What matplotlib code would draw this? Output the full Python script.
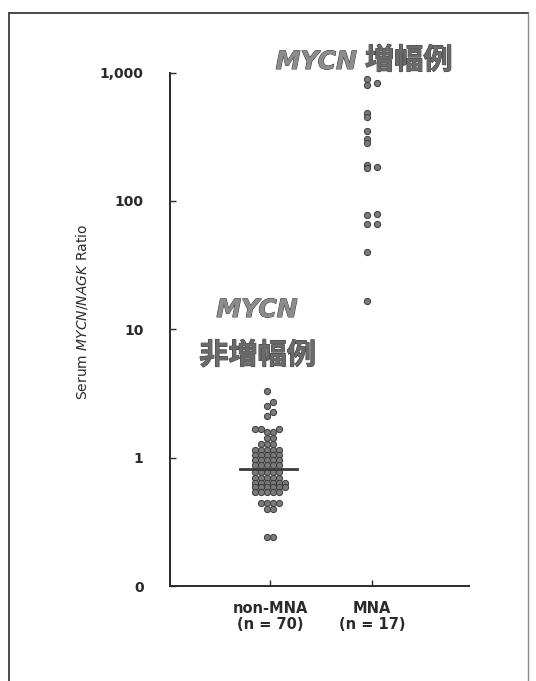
import numpy as np
import matplotlib
matplotlib.use("Agg")
import matplotlib.pyplot as plt
from matplotlib.lines import Line2D
import matplotlib.patheffects as pe

plt.rcParams['font.family'] = ['DejaVu Sans', 'Noto Sans CJK JP']
plt.rcParams['mathtext.fontset'] = 'custom'
plt.rcParams['mathtext.rm'] = 'DejaVu Sans'
plt.rcParams['mathtext.it'] = 'DejaVu Sans:italic'

# ---------------- data ----------------
categories = ["non-MNA\n(n = 70)", "MNA\n(n = 17)"]
non_mna_levels = [3.31, 2.72, 2.52, 2.27, 2.11, 1.67, 1.58, 1.42, 1.27,
                  1.15, 1.05, 0.955, 0.87, 0.77, 0.70, 0.64, 0.59, 0.54,
                  0.44, 0.40, 0.24]
non_mna_counts = [1, 1, 1, 1, 1, 3, 2, 2, 3,
                  5, 5, 5, 5, 5, 5, 6, 6, 5,
                  4, 2, 2]
non_mna = np.repeat(non_mna_levels, non_mna_counts)
mna = np.array([885, 832, 798, 480, 452, 351, 301, 280, 189, 184, 179,
                79, 77, 66, 66, 40, 16.7])
yticks = [0.1, 1, 10, 100, 1000]
yticklabels = ["0", "1", "10", "100", "1,000"]
ylabel = r"Serum $\mathit{MYCN/NAGK}$ Ratio"

# ---------------- figure ----------------
W, H = 536, 681
fig = plt.figure(figsize=(W / 100, H / 100), dpi=100)
ax = fig.add_axes([170 / W, (H - 586) / H, 299 / W, (586 - 72.5) / H])
ax.set_yscale('log')
ax.set_ylim(0.1, 1000)
ax.set_xlim(-0.98, 1.95)

for s in ['top', 'right']:
    ax.spines[s].set_visible(False)
for s in ['left', 'bottom']:
    ax.spines[s].set_linewidth(1.4)
    ax.spines[s].set_color('#2a2a2a')

ax.set_yticks(yticks)
ax.set_yticklabels(yticklabels)
ax.yaxis.set_minor_locator(matplotlib.ticker.NullLocator())
ax.set_xticks([0, 1])
ax.set_xticklabels(categories, linespacing=1.05)
ax.tick_params(axis='y', direction='in', length=4, width=1, pad=19,
               labelsize=10, colors='#2a2a2a')
ax.tick_params(axis='x', direction='in', length=4, width=1, pad=11,
               labelsize=10.5, colors='#2a2a2a')
for lab in ax.get_yticklabels() + ax.get_xticklabels():
    lab.set_fontweight('bold')

ax.set_ylabel(ylabel, fontsize=10, color='#2a2a2a')
ax.yaxis.set_label_coords(-0.268, 0.534)


def swarm(values, center, step_px, diam_px):
    pts = ax.transData.transform(np.column_stack([np.full(len(values), center), values]))
    ys = pts[:, 1]
    x0 = pts[0, 0]
    cands = [sg * (k + 0.5) * step_px for k in range(30) for sg in (-1, 1)]
    placed = []
    xs = np.empty(len(values))
    for i in np.argsort(ys, kind='stable'):
        for c in cands:
            if all((c - px) ** 2 + (ys[i] - py) ** 2 >= diam_px ** 2 for px, py in placed):
                break
        placed.append((c, ys[i]))
        xs[i] = x0 + c
    return ax.transData.inverted().transform(np.column_stack([xs, ys]))[:, 0]


x_non = swarm(non_mna, 0, 6.0, 4.4)
x_mna = swarm(mna, 1, 10, 2.9)
kw = dict(s=20, facecolor='#7a7a7a', edgecolor='#3a3a3a', linewidths=0.7, zorder=3)
ax.scatter(x_non, non_mna, **kw)
ax.scatter(x_mna, mna, **kw)

med = np.median(non_mna)
ax.plot([-0.29, 0.26], [med, med], color='#3a3a3a', lw=2, zorder=4)

# ---------------- annotations ----------------
eff = [pe.withStroke(linewidth=0.7, foreground='#3a3a3a')]
fig.text(357 / W, 1 - 69 / H, "MYCN", ha='right', va='baseline', fontsize=18,
         fontweight='bold', style='italic', color='#8c8c8c', path_effects=eff,
         family='DejaVu Sans')
fig.text(365 / W, 1 - 69 / H, "増幅例", ha='left', va='baseline', fontsize=21,
         fontweight='bold', color='#6a6a6a', path_effects=eff,
         family='Noto Sans CJK JP')
fig.text(257 / W, 1 - 317 / H, "MYCN", ha='center', va='baseline', fontsize=18,
         fontweight='bold', style='italic', color='#8c8c8c', path_effects=eff,
         family='DejaVu Sans')
fig.text(257.5 / W, 1 - 364 / H, "非増幅例", ha='center', va='baseline', fontsize=21,
         fontweight='bold', color='#6a6a6a', path_effects=eff,
         family='Noto Sans CJK JP')

# ---------------- page frame ----------------
fc = '#4a4a4a'
fig.add_artist(Line2D([9 / W, 9 / W], [0, 1 - 13 / H], color=fc, lw=1.4, transform=fig.transFigure))
fig.add_artist(Line2D([9 / W, 528 / W], [1 - 13 / H, 1 - 13 / H], color=fc, lw=1.4, transform=fig.transFigure))
fig.add_artist(Line2D([528 / W, 528 / W], [0, 1 - 13 / H], color='#8a8a8a', lw=1.0, transform=fig.transFigure))

fig.savefig("out.png", dpi=100)
